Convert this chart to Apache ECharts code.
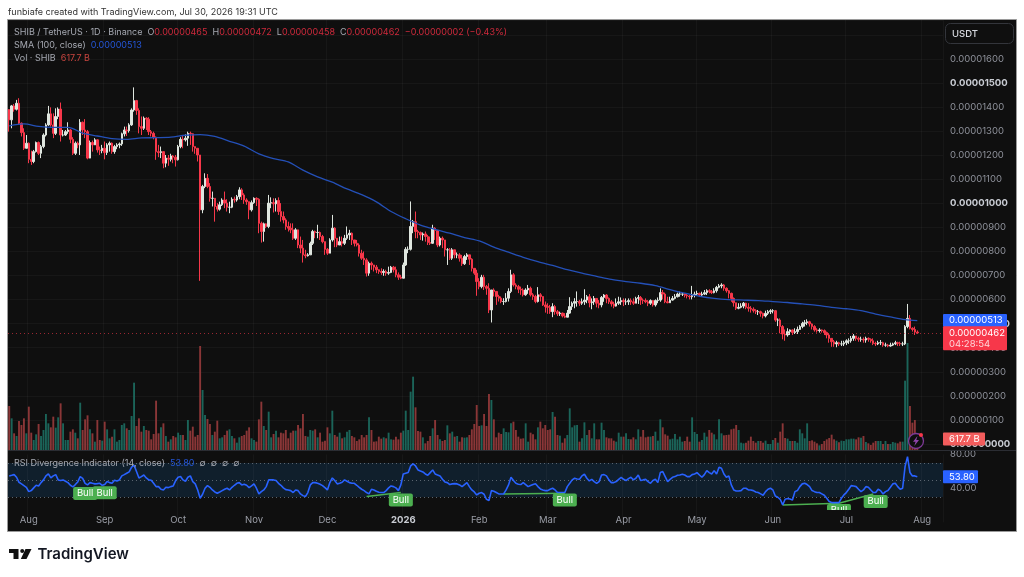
<!DOCTYPE html>
<html><head><meta charset="utf-8">
<style>html,body{margin:0;padding:0;background:#fff;}#c{width:1024px;height:577px;}</style>
<script src="https://cdn.jsdelivr.net/npm/echarts@6/dist/echarts.min.js"></script>
</head><body><div id="c"></div>
<script>
// Prices are in units of 0.00000001 USDT
const firstOpen = 1390;
const closes = [
1347,1405,1391,1416,1333,1294,1229,1250,1183,1174,
1215,1253,1208,1236,1284,1326,1372,1326,1291,1361,
1392,1284,1284,1298,1305,1266,1208,1250,1243,1337,
1305,1298,1188,1253,1243,1264,1222,1219,1229,1211,
1243,1250,1215,1236,1243,1247,1289,1305,1302,1326,
1388,1427,1386,1319,1312,1354,1350,1298,1291,1275,
1215,1211,1215,1167,1188,1183,1197,1192,1181,1236,
1266,1264,1271,1291,1289,1236,1229,1201,973,1070,
1104,1070,1021,1021,987,976,994,1014,1001,984,
984,1017,1014,1028,1056,1035,1014,1007,973,1003,
1021,1017,917,883,915,904,1001,1003,998,1012,
966,945,931,904,897,890,855,890,827,814,
786,782,786,834,883,879,879,862,841,809,
793,848,897,855,827,841,834,855,869,876,
848,834,827,793,772,765,710,751,744,735,
724,717,713,717,710,713,735,724,703,693,
689,744,809,809,904,924,883,879,869,873,
862,837,834,897,887,827,855,848,807,807,
772,807,786,786,772,749,779,786,768,730,
710,675,654,693,654,647,557,640,634,613,
606,592,592,606,634,703,661,654,643,640,
620,640,647,620,613,592,620,613,578,571,
568,550,571,550,541,544,532,527,544,571,
585,592,592,585,591,598,612,587,591,605,
585,578,609,619,605,591,582,573,585,591,
596,591,591,596,591,585,605,609,598,596,
591,585,596,578,596,598,629,623,591,587,
598,605,612,623,623,623,618,615,612,619,
623,626,619,623,629,637,633,629,637,651,
657,661,647,637,626,605,587,564,568,573,
585,568,564,560,554,550,550,543,532,543,
550,554,554,515,515,488,457,453,467,474,
463,467,476,488,501,504,508,499,488,474,
471,474,471,463,453,439,425,416,421,416,
416,421,429,429,439,449,439,435,435,432,
439,435,429,418,416,421,421,411,411,407,
411,416,421,418,416,416,488,522,481,476,
465,462];
const highs = [
1391,1409,1413,1430,1437,1336,1312,1284,1253,1219,
1222,1257,1257,1243,1291,1333,1405,1399,1374,1395,
1399,1419,1305,1305,1337,1308,1275,1257,1257,1350,
1340,1350,1305,1261,1261,1271,1266,1236,1243,1257,
1250,1257,1253,1243,1250,1253,1294,1319,1319,1333,
1395,1482,1430,1395,1361,1361,1358,1358,1305,1298,
1278,1243,1236,1215,1201,1201,1206,1201,1201,1243,
1275,1284,1287,1298,1298,1291,1236,1229,1201,1077,
1125,1122,1084,1049,1021,1001,1007,1021,1049,1017,
1007,1025,1028,1035,1067,1063,1042,1021,1007,1012,
1025,1025,1021,924,920,917,1035,1025,1021,1021,
1025,1001,966,938,924,917,917,897,876,862,
848,807,793,841,890,887,911,883,869,841,
814,855,952,901,841,862,862,869,904,890,
879,848,848,834,807,800,772,758,758,744,
744,726,730,726,724,737,740,740,737,713,
703,754,818,821,1008,931,966,890,883,879,
883,869,862,911,901,862,862,862,848,814,
814,814,807,796,793,786,786,793,786,772,
730,724,689,703,703,661,668,640,647,634,
620,613,606,627,647,724,710,668,661,654,
647,647,661,654,627,620,652,627,613,592,
585,578,585,578,557,550,546,544,557,610,
592,606,634,599,605,643,619,623,605,615,
605,598,615,623,623,609,598,591,605,612,
609,605,605,605,605,605,612,619,615,605,
605,598,601,598,601,609,647,640,629,612,
612,615,623,629,633,629,626,626,619,657,
633,637,629,633,640,643,643,640,647,657,
665,668,665,651,640,629,609,587,585,585,
590,587,585,573,568,560,557,554,546,554,
557,560,560,557,522,522,494,476,481,476,
476,481,488,494,508,515,518,512,501,494,
481,481,476,476,467,460,439,432,429,425,
429,429,435,439,449,457,449,446,446,443,
446,443,439,439,425,429,432,425,421,416,
421,421,429,425,425,425,494,582,536,485,
488,472];
const lows = [
1298,1312,1381,1386,1326,1278,1222,1236,1167,1160,
1167,1211,1201,1188,1229,1278,1322,1319,1271,1284,
1350,1257,1278,1280,1289,1250,1201,1201,1229,1201,
1284,1271,1183,1194,1215,1243,1211,1201,1208,1183,
1201,1215,1206,1206,1225,1229,1239,1278,1280,1294,
1322,1381,1368,1291,1284,1305,1305,1284,1278,1266,
1181,1192,1188,1146,1150,1156,1174,1167,1153,1178,
1229,1229,1257,1239,1243,1215,1206,1174,678,959,
1063,1063,1007,987,924,966,970,989,980,966,
959,980,1003,1007,1017,1014,998,994,934,966,
998,989,876,837,841,897,897,980,962,966,
952,924,917,890,883,876,848,848,814,793,
754,772,779,786,827,855,855,848,834,786,
786,793,841,818,818,827,821,827,848,848,
827,821,821,779,765,744,696,699,724,717,
710,707,703,699,699,703,710,713,693,682,
685,689,740,793,804,876,855,855,848,845,
841,827,827,832,848,818,821,814,779,744,
765,765,772,772,758,740,744,765,744,717,
703,616,643,647,640,620,544,505,613,578,
592,585,578,588,592,627,654,643,627,620,
613,616,624,613,599,585,588,592,574,546,
541,541,527,537,532,532,526,523,527,541,
557,564,571,574,578,578,585,568,560,578,
568,564,568,591,585,582,571,564,571,578,
578,573,578,578,578,578,585,582,578,582,
585,573,578,571,571,585,591,601,585,585,
587,596,601,609,612,615,609,605,601,601,
609,615,612,615,619,619,626,623,626,629,
647,647,637,629,605,591,571,557,560,564,
564,560,550,546,546,540,536,529,522,526,
536,540,543,508,490,460,435,429,446,453,
453,457,457,474,481,488,494,488,476,467,
463,463,463,453,439,421,404,404,402,407,
407,407,411,416,421,429,429,425,425,421,
421,425,421,411,407,411,411,404,404,402,
404,407,411,407,407,407,411,481,476,467,
453,458];
// 100-day SMA read every 6 bars, plus the final bar
const smaStep = 6;
const smaReadings = [1322,1330,1320,1316,1316,1292,1280,1269,1266,1272,1273,1275,1283,1286,1278,1258,1238,1206,1186,1172,1138,1110,1088,1060,1036,1006,966,936,910,892,876,858,844,818,797,776,758,742,725,710,697,684,675,668,658,642,627,614,605,600,598,596,592,588,582,576,568,562,554,540,528,517];
const smaLast = 513;
// Volume, billions of SHIB
const volumes = [
2468,1777,935,785,1627,1403,1777,935,2431,972,
561,879,1459,785,1122,2020,1496,1272,1870,1253,
1833,2618,1496,561,561,1029,1159,972,655,2655,
1122,1720,1945,1159,935,468,1683,561,524,1590,
1159,655,748,1159,468,561,1403,1496,1216,1122,
1907,3777,1346,1777,1029,1346,1122,1085,598,898,
2768,935,1272,1496,785,468,598,785,711,972,
842,842,561,1683,1085,1309,748,842,5834,3366,
1964,1739,1459,842,1029,1646,655,711,842,1085,
1159,785,655,411,711,785,842,1085,1272,655,
561,468,1720,2712,1346,1122,2151,711,898,1085,
711,972,935,1122,655,972,1085,1085,1403,1216,
2020,785,748,1122,1085,1159,711,972,468,524,
1272,935,2207,842,748,972,
655,711,1029,1122,785,711,505,598,842,711,
842,1833,1122,468,486,748,636,711,655,972,
598,580,748,598,972,1085,2207,1122,3273,4114,
2394,1066,1029,711,374,505,785,1216,1683,842,
598,505,561,1384,935,1029,748,785,468,711,
692,711,842,1159,1459,2525,1346,1384,2020,1346,
3142,2805,1720,711,972,898,1216,1010,991,1496,
1590,1122,748,636,655,1496,468,972,879,598,
1272,1590,1216,1403,1122,1159,2132,1870,842,804,
411,655,842,2338,1272,1384,1403,468,655,1552,
842,1122,655,1496,598,598,1533,1122,711,655,
655,524,468,972,748,748,935,617,598,711,
598,1159,748,1122,711,748,748,785,1029,524,
1720,1272,879,804,598,636,898,598,748,
468,505,748,468,1833,1010,898,468,561,972,
748,1122,972,879,598,1720,935,823,842,860,
1159,1197,1403,1122,411,374,411,524,748,505,
411,505,505,411,524,337,337,561,673,411,
1029,1496,673,636,505,505,505,411,1159,935,
655,1496,505,542,468,374,262,337,505,598,
673,860,598,524,430,524,505,598,598,636,
636,598,711,692,785,449,374,281,411,505,
505,505,337,505,337,337,449,411,374,468,
468,3890,6003,2468,1533,1683,617.7];
const rsi = [
54.7,55.4,56.2,53.1,47.2,45.3,43.3,41.3,36.2,37.4,
40.6,43.7,42.9,46.8,50.0,54.7,57.0,52.3,54.7,56.2,
50.0,49.2,50.0,48.4,46.8,43.7,41.7,44.5,47.6,53.9,
51.9,46.0,44.1,46.8,46.0,45.3,45.6,46.0,43.7,44.5,
48.0,46.8,46.0,49.6,48.8,50.0,54.7,56.2,57.8,59.4,
64.9,67.2,59.8,52.3,53.9,55.8,52.3,50.0,49.6,46.0,
42.1,42.1,39.0,38.2,41.3,40.9,42.1,42.9,49.2,53.1,
53.9,50.0,48.4,53.1,54.7,48.0,45.3,38.2,28.4,33.1,
40.2,43.3,41.3,38.2,35.8,34.3,35.8,37.4,39.0,40.2,
38.2,41.3,43.7,46.0,46.8,44.1,44.9,43.7,40.9,42.9,
45.3,40.2,33.5,36.2,38.2,42.1,50.0,50.0,50.0,49.2,
46.0,43.7,40.6,38.6,38.2,37.4,35.1,38.2,37.4,33.5,
31.5,30.4,35.1,44.1,46.8,46.8,46.0,44.9,43.3,40.9,
38.2,46.8,52.3,49.2,45.3,46.0,47.2,50.0,48.4,46.8,
46.0,46.0,43.7,41.3,39.0,37.4,35.1,33.5,39.0,38.2,
36.6,35.5,35.1,35.1,37.4,40.6,42.9,42.1,40.6,37.4,
44.1,57.0,57.8,58.6,66.4,68.8,66.4,61.7,60.5,59.4,
57.0,55.4,58.6,61.7,57.0,55.8,54.7,50.7,47.6,46.8,
44.5,45.3,45.6,45.3,44.1,42.1,44.5,46.8,42.1,38.2,
35.8,32.3,34.3,35.1,33.1,27.2,25.7,37.4,36.6,35.1,
33.5,33.5,33.5,38.2,44.1,53.1,49.2,46.0,44.9,44.5,
46.8,44.5,42.1,43.3,44.5,45.6,42.1,39.4,38.2,37.4,
37.4,39.0,40.2,38.2,35.1,35.1,35.1,35.1,42.1,46.0,
50.0,51.9,51.1,50.7,54.7,56.6,51.9,48.8,50.7,48.0,
46.0,48.0,55.8,56.2,54.7,50.0,46.8,46.8,48.0,50.7,
53.1,50.7,49.2,51.5,53.1,50.0,51.9,55.8,49.2,50.0,
50.7,48.0,46.0,49.2,50.7,46.8,58.6,59.8,53.9,48.0,
50.7,53.1,53.9,55.4,55.8,56.6,55.8,53.9,53.9,56.2,
57.0,58.6,55.8,53.1,56.2,60.9,58.6,57.0,60.9,57.0,
64.9,63.7,57.0,53.1,54.7,44.1,38.2,37.0,37.0,37.4,
40.2,40.2,38.2,38.2,37.4,35.8,35.1,33.5,31.9,36.2,
39.0,40.2,38.2,31.1,29.6,27.2,20.6,27.2,28.0,27.6,
26.4,36.2,37.4,42.1,45.3,46.0,44.5,42.1,37.4,36.2,
35.1,35.1,33.5,31.9,28.4,24.5,23.3,23.3,23.3,23.3,
28.4,32.3,35.1,39.0,43.3,42.9,42.1,39.0,36.2,38.2,
42.1,41.3,38.2,35.1,35.1,39.0,37.4,33.5,36.2,37.4,
41.3,45.3,46.0,42.1,39.0,40.2,65.6,77.4,58.6,54.7,
54.7,53.8];
// Divergence segments: [from bar, from RSI, to bar, to RSI]
const divergences = [[146,30.4,160,35.1],[202,33.5,227,34.3],[316,20.6,339,22.5],[339,22.5,353,33.5]];
const bullBars = [31,39,160,227,339,354];
const bullValues = [34,34.8,26.4,26.4,14,24.6];
const bullText = 'Bull';
const priceMaxTick = 1600;
const strongTicks = [1500,1000,500,0];
const rsiTicks = [40,80];
const bandLevels = [30,50,70];
const monthNames = ['Jan','Feb','Mar','Apr','May','Jun','Jul','Aug','Sep','Oct','Nov','Dec'];
const startDate = Date.UTC(2025,6,24);
const totalBars = 382;

const FONT = 'Inter, Roboto, sans-serif';
const UP='#dfe6df', DOWN='#f7374a', VUP='#1b6459', VDOWN='#8a3637';
const opens = closes.map((c,i)=> i===0 ? firstOpen : closes[i-1]);
const cats = [];
for(let i=0;i<totalBars;i++){ cats.push(new Date(startDate+i*86400000).toISOString().slice(0,10)); }
const isMonthStart = (idx)=> cats[idx] && cats[idx].slice(8)==='01';
const candleData = closes.map((c,i)=>[opens[i],c,lows[i],highs[i]]);
const volData = volumes.map((v,i)=>({value:v,itemStyle:{color:closes[i]>=opens[i]?VUP:VDOWN}}));
const smaData = smaReadings.map((v,k)=>[k*smaStep,v]).concat([[closes.length-1,smaLast]]);

const chart = echarts.init(document.getElementById('c'),null,{renderer:'canvas'});
const L=8, R=1024-943;
const gridLine={show:true,lineStyle:{color:'rgba(255,255,255,0.035)',width:1}};
const baseX=(g)=>({type:'category',gridIndex:g,data:cats,boundaryGap:true,axisLine:{show:false},axisTick:{show:false},axisLabel:{show:false},
  splitLine:Object.assign({},gridLine,{interval:(i)=>isMonthStart(i)})});

chart.setOption({
  animation:false,
  backgroundColor:'#ffffff',
  textStyle:{fontFamily:FONT},
  grid:[
    {left:L,right:R,top:20,height:424},
    {left:L,right:R,top:340,height:110},
    {left:L,right:R,top:454.4,height:68}
  ],
  xAxis:[
    baseX(0),
    Object.assign(baseX(1),{splitLine:{show:false}}),
    Object.assign(baseX(2),{z:10,axisLabel:{show:true,margin:-7,fontSize:9.5,fontFamily:FONT,color:'#9a9da6',hideOverlap:false,
      interval:(i)=>isMonthStart(i),
      formatter:(v)=>{const m=+v.slice(5,7)-1; return m===0?'{y|'+v.slice(0,4)+'}':monthNames[m];},
      rich:{y:{fontWeight:700,color:'#c9ccd3',fontSize:9.5,fontFamily:FONT}}}})
  ],
  yAxis:[
    {type:'value',gridIndex:0,position:'right',min:0,max:1762,interval:100,axisLine:{show:false},axisTick:{show:false},splitLine:gridLine,
     axisLabel:{margin:7,fontSize:9.5,fontFamily:FONT,color:'#8f929b',
       formatter:(v)=>{ if(v>priceMaxTick) return ''; const t=(v*1e-8).toFixed(8); return strongTicks.includes(v)?'{b|'+t+'}':t; },
       rich:{b:{fontWeight:700,color:'#c9ccd3',fontSize:9.5,fontFamily:FONT}}}},
    {type:'value',gridIndex:1,min:0,max:6171,show:false,splitLine:{show:false}},
    {type:'value',gridIndex:2,position:'right',min:0,max:80,interval:40,axisLine:{show:false},axisTick:{show:false},splitLine:{show:false},
     axisLabel:{margin:7,fontSize:9.5,fontFamily:FONT,color:'#8f929b',formatter:(v)=>rsiTicks.includes(v)?v.toFixed(2):''}}
  ],
  series:[
    {name:'Vol',type:'bar',xAxisIndex:1,yAxisIndex:1,data:volData,barWidth:1.9,z:1},
    {name:'SHIB',type:'candlestick',xAxisIndex:0,yAxisIndex:0,data:candleData,barWidth:2,z:3,
     itemStyle:{color:UP,color0:DOWN,borderColor:UP,borderColor0:DOWN,borderWidth:1},
     markLine:{silent:true,symbol:'none',label:{show:false},animation:false,
       lineStyle:{color:'rgba(247,55,74,0.6)',type:[1,3],width:1},data:[{yAxis:closes[closes.length-1]}]}},
    {name:'SMA',type:'line',xAxisIndex:0,yAxisIndex:0,data:smaData,showSymbol:false,smooth:0.3,z:4,lineStyle:{color:'#2450b8',width:1.3}},
    {name:'RSI',type:'line',xAxisIndex:2,yAxisIndex:2,data:rsi,showSymbol:false,z:4,lineStyle:{color:'#2962ff',width:1.6},
     markArea:{silent:true,itemStyle:{color:'#101f2c'},data:[[{yAxis:bandLevels[2]},{yAxis:bandLevels[0]}]],z:1},
     markLine:{silent:true,symbol:'none',label:{show:false},animation:false,z:2,
       data:bandLevels.map(v=>({yAxis:v,lineStyle:{color:'#5b6570',type:[1,3],width:1}}))
        .concat(divergences.map(d=>[{coord:[d[0],d[1]],lineStyle:{color:'#4caf50',type:'solid',width:1.5}},{coord:[d[2],d[3]]}]))},
     markPoint:{silent:true,z:5,symbol:'path://M2 0H22A2 2 0 0 1 24 2V11A2 2 0 0 1 22 13H2A2 2 0 0 1 0 11V2A2 2 0 0 1 2 0Z',symbolKeepAspect:false,symbolSize:[24,13],itemStyle:{color:'#4caf50'},
       label:{show:true,color:'#ffffff',fontSize:9.5,fontFamily:FONT,formatter:()=>bullText},
       data:bullBars.map((b,i)=>({coord:[b,bullValues[i]]}))}}
  ]
});

const yOf=(g,v)=>chart.convertToPixel({yAxisIndex:g},v);
const last=closes.length-1;
const tx=(x,y,t,o)=>({type:'text',z:20,x,y,style:Object.assign({text:t,fill:'#b2b5be',font:'9px '+FONT,verticalAlign:'middle'},o||{})});
const badge=(x,w,y,h,c,t,o)=>[{type:'rect',z:19,shape:{x,y:y-h/2,width:w,height:h,r:1},style:{fill:c}},
  tx(x+6,y,t,Object.assign({fill:'#ffffff',font:'9.5px '+FONT},o||{}))];
const red='#cf2a3c', gr='#a6a9b2', blue='#2456d8';
const rich={g:{fill:gr,fontSize:9,fontFamily:FONT},r:{fill:red,fontSize:9,fontFamily:FONT},b:{fill:blue,fontSize:9,fontFamily:FONT},v:{fill:'#c8453f',fontSize:9,fontFamily:FONT}};
const rt=(x,y,t)=>({type:'text',z:20,x,y,style:{text:t,rich,verticalAlign:'middle',font:'9px '+FONT}});

const yClose=yOf(0,closes[last]);
chart.setOption({graphic:{elements:[
  {type:'rect',z:-10,shape:{x:7.5,y:19.5,width:1009,height:512},style:{fill:'#0f0f0f',stroke:'#9a9a9a',lineWidth:1}},
  {type:'rect',z:7,shape:{x:8,y:510,width:1008,height:21},style:{fill:'#0f0f0f'}},
  {type:'line',z:8,shape:{x1:8,y1:450.5,x2:1016,y2:450.5},style:{stroke:'#2b2d33',lineWidth:1}},
  tx(8,12,'funbiafe created with TradingView.com, Jul 30, 2026 19:31 UTC',{fill:'#333333'}),
  rt(14,32,'{g|SHIB / TetherUS · 1D · Binance  O}{r|0.00000465}{g|  H}{r|0.00000472}{g|  L}{r|0.00000458}{g|  C}{r|0.00000462}{r|  −0.00000002 (−0.43%)}'),
  rt(14,45,'{g|SMA (100, close)  }{b|0.00000513}'),
  rt(14,58,'{g|Vol · SHIB  }{v|617.7 B}'),
  rt(14,463,'{g|RSI Divergence Indicator (14, close)  }{b|53.80}{g|  ∅  ∅  ∅  ∅}'),
  {type:'rect',z:19,shape:{x:945.5,y:23.5,width:68,height:20,r:5},style:{fill:'#0f0f0f',stroke:'#33353b',lineWidth:1}},
  tx(952,34,'USDT',{fill:'#d6d8de',font:'500 9.5px '+FONT}),
  ...badge(943,64,yOf(0,smaLast),13,'#2962ff','0.00000513'),
  {type:'rect',z:19,shape:{x:943,y:yClose-6.5,width:64,height:24,r:1},style:{fill:DOWN}},
  tx(949,yClose,'0.00000462',{fill:'#fff',font:'9.5px '+FONT}),
  tx(949,yClose+11.5,'04:28:54',{fill:'#ffd5d9',font:'9.5px '+FONT}),
  ...badge(943,42,yOf(1,volumes[last]),13,'#f25c5c','617.7 B'),
  ...badge(943,35,yOf(2,rsi[last]),13,'#2962ff','53.80'),
  {type:'circle',z:19,shape:{cx:916,cy:441,r:7.5},style:{fill:'#0f0f0f',stroke:'#7d3a96',lineWidth:1.3}},
  {type:'polygon',z:20,shape:{points:[[917.5,436],[913,441.8],[915.6,441.8],[914.3,446],[919,440],[916.3,440]]},style:{fill:'#8f44aa'}},
  {type:'circle',z:21,shape:{cx:921,cy:435,r:2},style:{fill:'#f7374a'}},
  {type:'polygon',z:20,shape:{points:[[9,549],[18.5,549],[18.5,559],[13.5,559],[13.5,553],[9,553]]},style:{fill:'#111'}},
  {type:'circle',z:20,shape:{cx:22.2,cy:551,r:2},style:{fill:'#111'}},
  {type:'polygon',z:20,shape:{points:[[25.5,549],[31.5,549],[26.5,559],[20.8,559]]},style:{fill:'#111'}},
  tx(37.5,554,'TradingView',{fill:'#131722',font:'600 15px '+FONT})
]}});
</script></body></html>
